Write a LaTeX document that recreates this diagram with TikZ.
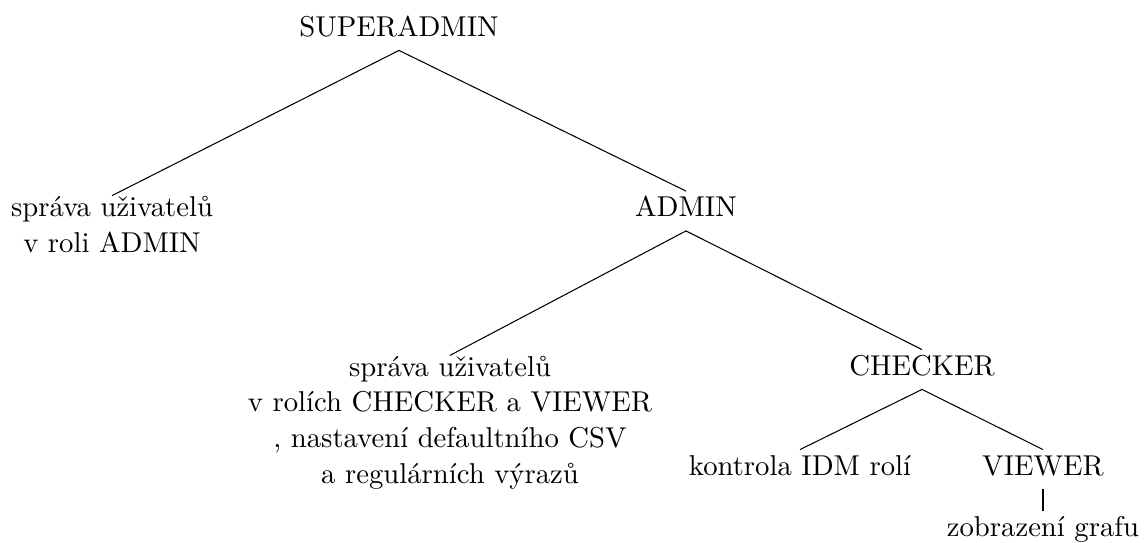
\documentclass[tikz,border=0pt]{standalone}
\begin{document}
\begin{tikzpicture}[
  x=0.3817pt, y=-0.3817pt,
  font=\fontsize{10.95}{13.6}\selectfont,
  lbl/.style={inner sep=0pt, anchor=base, text height=9.5pt, text depth=5.3pt},
  % multi-line leaves: placed by the baseline of their last line,
  % with a strut in the first line so the top sits like the single-line nodes
  multi/.style={inner sep=0pt, anchor=base, align=center,
                execute at begin node={\rule{0pt}{9.5pt}}},
  edge/.style={line width=0.4pt}
]
\useasboundingbox (0,0) rectangle (1144,542);

\node[lbl]   (root)    at (399,36)    {SUPERADMIN};
\node[multi] (suser)   at (112,252)   {správa uživatelů\\v roli ADMIN};
\node[lbl]   (admin)   at (686,216.5) {ADMIN};
\node[multi] (auser)   at (450,483)   {správa uživatelů\\v rolích CHECKER a VIEWER\\, nastavení defaultního CSV\\a regulárních výrazů};
\node[lbl]   (checker) at (922,375)   {CHECKER};
\node[lbl]   (idm)     at (800,475)   {kontrola IDM rolí};
\node[lbl]   (viewer)  at (1043,475)  {VIEWER};
\node[lbl]   (graph)   at (1043,536.5){zobrazení grafu};

% tree edges
\draw[edge] (root.south) -- (suser.north);
\draw[edge] (root.south) -- (admin.north);
\draw[edge] (admin.south) -- (auser.north);
\draw[edge] (admin.south) -- (checker.north);
\draw[edge] (checker.south) -- (idm.north);
\draw[edge] (checker.south) -- (viewer.north);
\draw[edge] (viewer.south) -- (graph.north);
\end{tikzpicture}
\end{document}
